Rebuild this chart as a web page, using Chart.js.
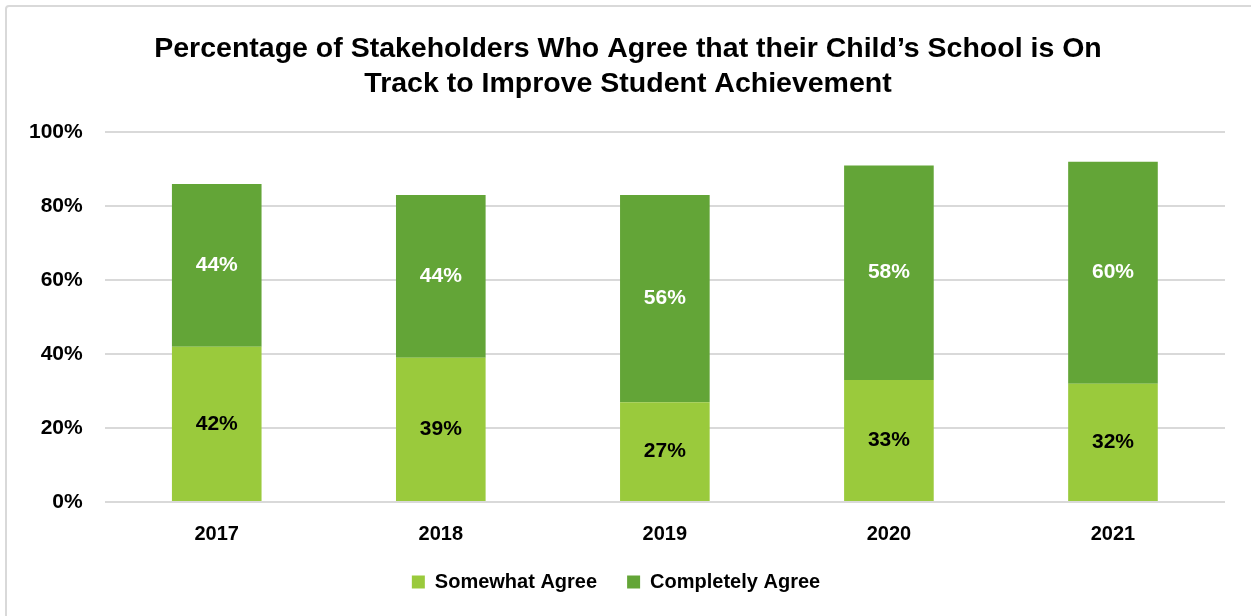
<!DOCTYPE html>
<html>
<head>
<meta charset="utf-8">
<script src="https://cdn.jsdelivr.net/npm/chart.js@4"></script>
<style>
html,body{margin:0;padding:0;background:#fff;}
#wrap{position:absolute;left:5px;top:5px;width:1260px;height:620px;border:2px solid #D9D9D9;border-radius:4px;box-sizing:border-box;}
#c{position:absolute;left:0;top:0;}
</style>
</head>
<body>
<div id="wrap"></div>
<canvas id="c" width="1251" height="616"></canvas>
<script>
const categories = ['2017','2018','2019','2020','2021'];
const somewhatAgree = [42, 39, 27, 33, 32];
const completelyAgree = [44, 44, 56, 58, 60];
const yTicks = [0, 20, 40, 60, 80, 100];
const titleLines = ['Percentage of Stakeholders Who Agree that their Child\u2019s School is On', 'Track to Improve Student Achievement'];

const labelPlugin = {
  id: 'barLabels',
  afterDatasetsDraw(chart) {
    const ctx = chart.ctx;
    chart.data.datasets.forEach((ds, di) => {
      const meta = chart.getDatasetMeta(di);
      meta.data.forEach((bar, i) => {
        const p = bar.getCenterPoint();
        ctx.save();
        ctx.font = 'bold 21px "Liberation Sans", Arial, sans-serif';
        ctx.fillStyle = di === 0 ? '#000000' : '#FFFFFF';
        ctx.textAlign = 'center';
        ctx.textBaseline = 'middle';
        ctx.fillText(ds.data[i] + '%', p.x, p.y);
        ctx.restore();
      });
    });
  }
};

// nudge the legend up and the title right to match the reference placement
const blockShift = {
  id: 'blockShift',
  afterLayout(chart) {
    if (chart.legend) { chart.legend.top -= 16; chart.legend.bottom -= 16; }
    if (chart.titleBlock) { chart.titleBlock.left += 12; chart.titleBlock.right += 12; }
  }
};

new Chart(document.getElementById('c'), {
  type: 'bar',
  data: {
    labels: categories,
    datasets: [
      { label: 'Somewhat Agree', data: somewhatAgree, backgroundColor: '#9ACA3C', barPercentage: 0.4, categoryPercentage: 1.0 },
      { label: 'Completely Agree', data: completelyAgree, backgroundColor: '#63A537', barPercentage: 0.4, categoryPercentage: 1.0 }
    ]
  },
  options: {
    responsive: false,
    animation: false,
    devicePixelRatio: 1,
    layout: { padding: { left: 7, right: 26, top: 32, bottom: -2 } },
    plugins: {
      title: {
        display: true,
        text: titleLines,
        color: '#000',
        font: { family: '"Liberation Sans", Arial, sans-serif', size: 28.5, weight: 'bold', lineHeight: 1.23 },
        padding: { top: 0, bottom: 30 }
      },
      legend: {
        position: 'bottom',
        labels: {
          color: '#000',
          boxWidth: 13, boxHeight: 13,
          padding: 30,
          font: { family: '"Liberation Sans", Arial, sans-serif', size: 20, weight: 'bold' }
        }
      },
      tooltip: { enabled: false }
    },
    scales: {
      x: {
        stacked: true,
        grid: { display: false },
        border: { display: false },
        ticks: { color: '#000', font: { family: '"Liberation Sans", Arial, sans-serif', size: 20, weight: 'bold' }, padding: 12 }
      },
      y: {
        stacked: true,
        min: 0, max: 100,
        afterBuildTicks(axis) { axis.ticks = yTicks.map(v => ({ value: v })); },
        grid: { color: '#D9D9D9', lineWidth: 2, drawTicks: false },
        border: { display: false },
        ticks: {
          color: '#000',
          padding: 22,
          font: { family: '"Liberation Sans", Arial, sans-serif', size: 21, weight: 'bold' },
          callback: v => v + '%'
        }
      }
    }
  },
  plugins: [labelPlugin, blockShift]
});
</script>
</body>
</html>
